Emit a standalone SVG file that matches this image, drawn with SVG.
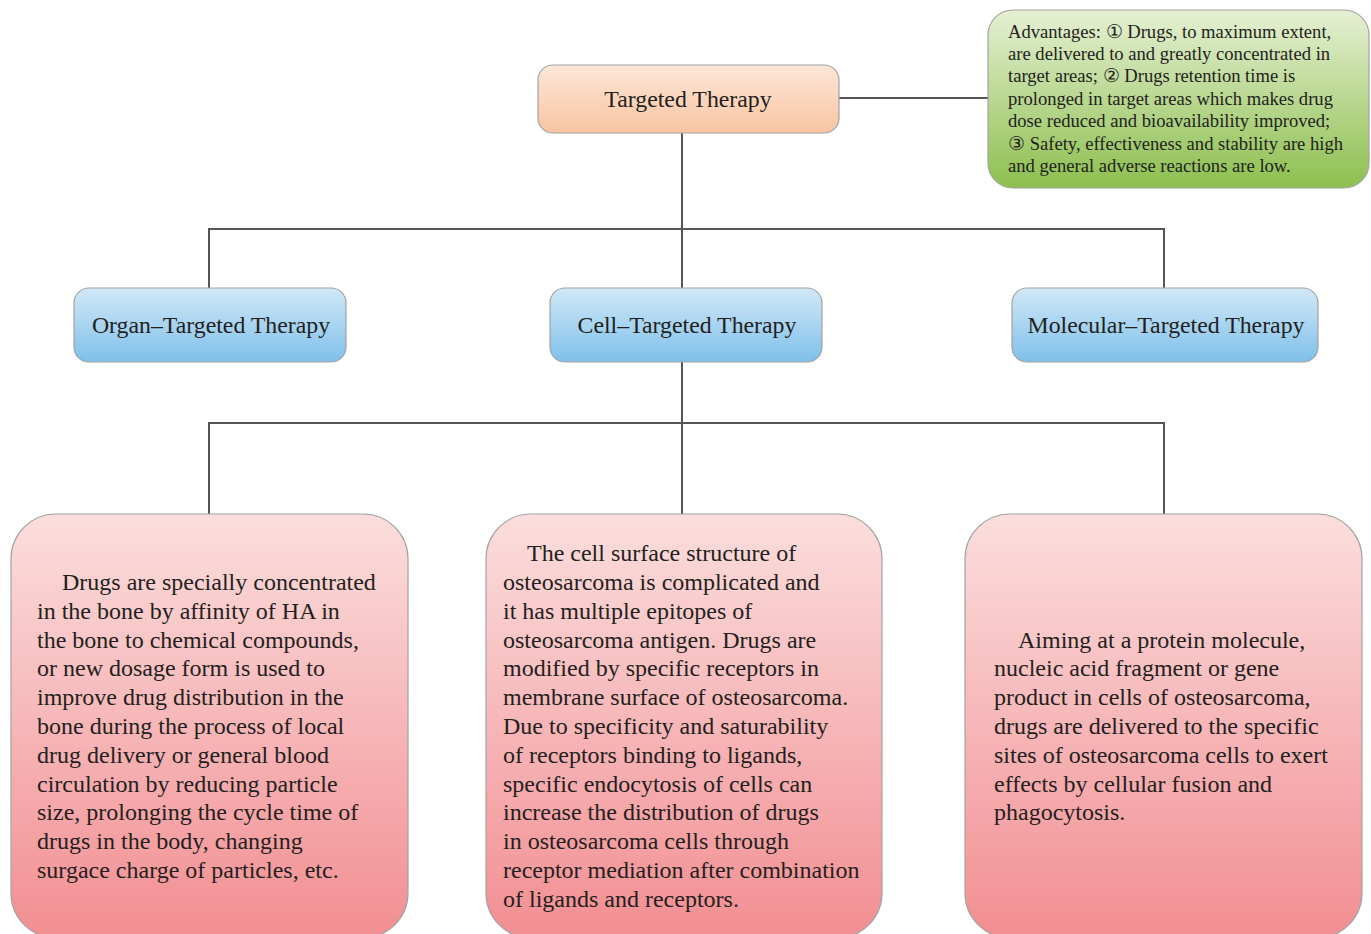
<svg xmlns="http://www.w3.org/2000/svg" width="1371" height="934" viewBox="0 0 1371 934">
<defs>
<linearGradient id="gPeach" x1="0" y1="0" x2="0" y2="1"><stop offset="0" stop-color="#fde6d8"/><stop offset="1" stop-color="#f9c4a2"/></linearGradient>
<linearGradient id="gGreen" x1="0" y1="0" x2="0" y2="1"><stop offset="0" stop-color="#e6f0d4"/><stop offset="1" stop-color="#8dbf4e"/></linearGradient>
<linearGradient id="gBlue" x1="0" y1="0" x2="0" y2="1"><stop offset="0" stop-color="#d2e8f7"/><stop offset="1" stop-color="#7ec0ea"/></linearGradient>
<linearGradient id="gPink" x1="0" y1="0" x2="0" y2="1"><stop offset="0" stop-color="#fbdedd"/><stop offset="1" stop-color="#f28e92"/></linearGradient>
</defs>
<style>
.box{stroke:#a3a3a3;stroke-width:1.2}
.t{font-family:"Liberation Serif","Times New Roman",serif;fill:#231f20}
.lbl{font-size:23.8px}
.body{font-size:24px}
.adv{font-size:18.6px}
.con{stroke:#555;stroke-width:2;fill:none}
</style>
<rect width="1371" height="934" fill="#ffffff"/>
<g id="connectors">
<path class="con" d="M839 98H988"/>
<path class="con" d="M682 133V229M209 288V229H1164V288M682 229V288"/>
<path class="con" d="M682 362V423M209 514V423H1164V514M682 423V514"/>
</g>
<g id="targeted-therapy">
<rect class="box" x="538" y="65" width="301" height="68" rx="15" fill="url(#gPeach)"/>
<text class="t lbl" x="688" y="107" text-anchor="middle">Targeted Therapy</text>
</g>
<g id="advantages">
<rect class="box" x="988" y="10" width="381" height="178" rx="25" fill="url(#gGreen)"/>
<text class="t adv" x="1008" y="38">Advantages: ① Drugs, to maximum extent,</text>
<text class="t adv" x="1008" y="60">are delivered to and greatly concentrated in</text>
<text class="t adv" x="1008" y="82">target areas; ② Drugs retention time is</text>
<text class="t adv" x="1008" y="105">prolonged in target areas which makes drug</text>
<text class="t adv" x="1008" y="127">dose reduced and bioavailability improved;</text>
<text class="t adv" x="1008" y="150">③ Safety, effectiveness and stability are high</text>
<text class="t adv" x="1008" y="172">and general adverse reactions are low.</text>
</g>
<g id="organ">
<rect class="box" x="74" y="288" width="272" height="74" rx="15" fill="url(#gBlue)"/>
<text class="t lbl" x="211" y="333" text-anchor="middle">Organ–Targeted Therapy</text>
</g>
<g id="cell">
<rect class="box" x="550" y="288" width="272" height="74" rx="15" fill="url(#gBlue)"/>
<text class="t lbl" x="687" y="333" text-anchor="middle">Cell–Targeted Therapy</text>
</g>
<g id="molecular">
<rect class="box" x="1012" y="288" width="306" height="74" rx="15" fill="url(#gBlue)"/>
<text class="t lbl" x="1166" y="333" text-anchor="middle">Molecular–Targeted Therapy</text>
</g>
<g id="organ-desc">
<rect class="box" x="11" y="514" width="397" height="424" rx="45" fill="url(#gPink)"/>
<text class="t body">
<tspan x="62" y="590">Drugs are specially concentrated</tspan>
<tspan x="37" y="619">in the bone by affinity of HA in</tspan>
<tspan x="37" y="648">the bone to chemical compounds,</tspan>
<tspan x="37" y="676">or new dosage form is used to</tspan>
<tspan x="37" y="705">improve drug distribution in the</tspan>
<tspan x="37" y="734">bone during the process of local</tspan>
<tspan x="37" y="763">drug delivery or general blood</tspan>
<tspan x="37" y="792">circulation by reducing particle</tspan>
<tspan x="37" y="820">size, prolonging the cycle time of</tspan>
<tspan x="37" y="849">drugs in the body, changing</tspan>
<tspan x="37" y="878">surgace charge of particles, etc.</tspan>
</text>
</g>
<g id="cell-desc">
<rect class="box" x="486" y="514" width="396" height="424" rx="45" fill="url(#gPink)"/>
<text class="t body">
<tspan x="527" y="561">The cell surface structure of</tspan>
<tspan x="503" y="590">osteosarcoma is complicated and</tspan>
<tspan x="503" y="619">it has multiple epitopes of</tspan>
<tspan x="503" y="648">osteosarcoma antigen. Drugs are</tspan>
<tspan x="503" y="676">modified by specific receptors in</tspan>
<tspan x="503" y="705">membrane surface of osteosarcoma.</tspan>
<tspan x="503" y="734">Due to specificity and saturability</tspan>
<tspan x="503" y="763">of receptors binding to ligands,</tspan>
<tspan x="503" y="792">specific endocytosis of cells can</tspan>
<tspan x="503" y="820">increase the distribution of drugs</tspan>
<tspan x="503" y="849">in osteosarcoma cells through</tspan>
<tspan x="503" y="878">receptor mediation after combination</tspan>
<tspan x="503" y="907">of ligands and receptors.</tspan>
</text>
</g>
<g id="molecular-desc">
<rect class="box" x="965" y="514" width="397" height="424" rx="45" fill="url(#gPink)"/>
<text class="t body">
<tspan x="1018" y="648">Aiming at a protein molecule,</tspan>
<tspan x="994" y="676">nucleic acid fragment or gene</tspan>
<tspan x="994" y="705">product in cells of osteosarcoma,</tspan>
<tspan x="994" y="734">drugs are delivered to the specific</tspan>
<tspan x="994" y="763">sites of osteosarcoma cells to exert</tspan>
<tspan x="994" y="792">effects by cellular fusion and</tspan>
<tspan x="994" y="820">phagocytosis.</tspan>
</text>
</g>
</svg>
